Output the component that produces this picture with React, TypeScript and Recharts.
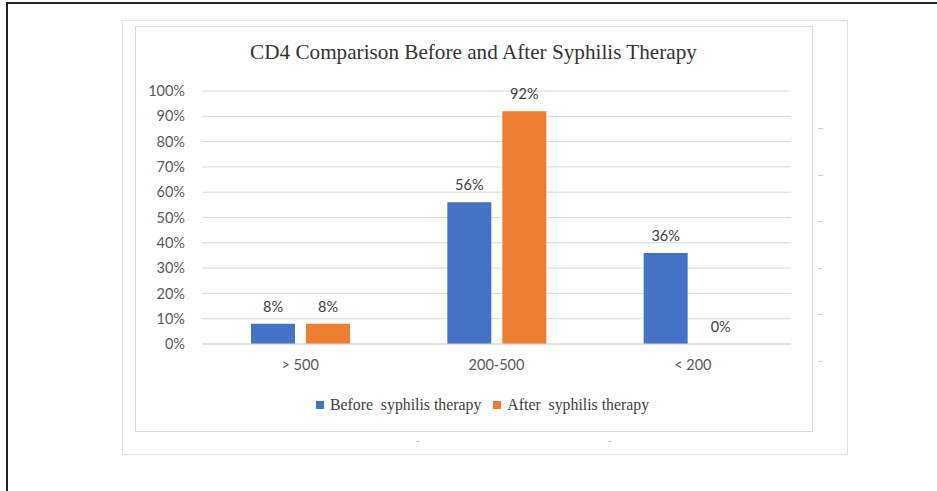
import React from 'react';
import { BarChart, Bar, XAxis, YAxis, CartesianGrid, Legend, LabelList } from 'recharts';

const categories = ['> 500', '200-500', '< 200'];
const beforeValues = [8, 56, 36];
const afterValues = [8, 92, 0];
const yTicks = [0, 10, 20, 30, 40, 50, 60, 70, 80, 90, 100];
const seriesNames = ['Before  syphilis therapy', 'After  syphilis therapy'];
const colors = ['#4472C4', '#ED7D31'];

const data = categories.map((c, i) => ({ name: c, before: beforeValues[i], after: afterValues[i] }));

const sans = 'Lato, "Open Sans", sans-serif';
const serif = '"Liberation Serif", "DejaVu Serif", serif';

const LegendContent = () => (
  <div style={{ display: 'flex', justifyContent: 'center', alignItems: 'center', height: 20, fontFamily: serif, fontSize: 15.8, color: '#404040', whiteSpace: 'pre', paddingLeft: 32 }}>
    {seriesNames.map((n, i) => (
      <div key={n} style={{ display: 'flex', alignItems: 'center', marginRight: i === 0 ? 12 : 0 }}>
        <span style={{ display: 'inline-block', width: 8, height: 8, background: colors[i], marginRight: 6 }} />
        <span>{n}</span>
      </div>
    ))}
  </div>
);

const rightTicks = [128, 175, 221, 268, 314, 361];

const renderLabel = (props: any) => {
  const { x, y, width, value } = props;
  return (
    <text x={Number(x) + Number(width) / 2} y={Number(y) - 12} textAnchor="middle"
      style={{ fill: '#404040', fontSize: 14.5, fontFamily: sans }}>
      {value + '%'}
    </text>
  );
};

export default function App() {
  return (
    <div style={{ position: 'absolute', left: 0, top: 0, width: 937, height: 491, background: '#fff', overflow: 'hidden' }}>
      <div style={{ position: 'absolute', left: 6, top: 2, width: 931, height: 2, background: '#222' }} />
      <div style={{ position: 'absolute', left: 6, top: 2, width: 2, height: 489, background: '#222' }} />
      <div style={{ position: 'absolute', left: 122, top: 20, width: 724, height: 433, border: '1px solid #e0e0e0' }} />
      <div style={{ position: 'absolute', left: 135, top: 26, width: 676, height: 404, border: '1px solid #d9d9d9' }} />
      {rightTicks.map((y) => (
        <div key={y} style={{ position: 'absolute', left: 818, top: y, width: 5, height: 1, background: '#ccc' }} />
      ))}
      <div style={{ position: 'absolute', left: 417, top: 441, width: 2, height: 1, background: '#aaa' }} />
      <div style={{ position: 'absolute', left: 609, top: 441, width: 2, height: 1, background: '#aaa' }} />
      <div style={{ position: 'absolute', left: 135, top: 40, width: 677, textAlign: 'center', fontFamily: serif, fontSize: 21.2, color: '#333' }}>
        CD4 Comparison Before and After Syphilis Therapy
      </div>
      <div style={{ position: 'absolute', left: 135, top: 26 }}>
        <BarChart width={677} height={405} data={data} margin={{ top: 65, right: 21, left: 7, bottom: 16 }} barSize={44} barGap={11}>
          <CartesianGrid vertical={false} stroke="#d9d9d9" />
          <XAxis dataKey="name" axisLine={{ stroke: '#d9d9d9' }} tickLine={false} height={51} tickMargin={10}
            tick={{ fill: '#595959', fontSize: 14.5, fontFamily: sans }} />
          <YAxis domain={[0, 100]} ticks={yTicks} width={60} axisLine={false} tickLine={false} tickMargin={11}
            tickFormatter={(v: number) => v + '%'} tick={{ fill: '#595959', fontSize: 14.5, fontFamily: sans }} />
          <Legend verticalAlign="bottom" height={20} content={<LegendContent />} />
          <Bar dataKey="before" name={seriesNames[0]} fill={colors[0]} isAnimationActive={false} minPointSize={0.01}>
            <LabelList dataKey="before" content={renderLabel} />
          </Bar>
          <Bar dataKey="after" name={seriesNames[1]} fill={colors[1]} isAnimationActive={false} minPointSize={0.01}>
            <LabelList dataKey="after" content={renderLabel} />
          </Bar>
        </BarChart>
      </div>
    </div>
  );
}
